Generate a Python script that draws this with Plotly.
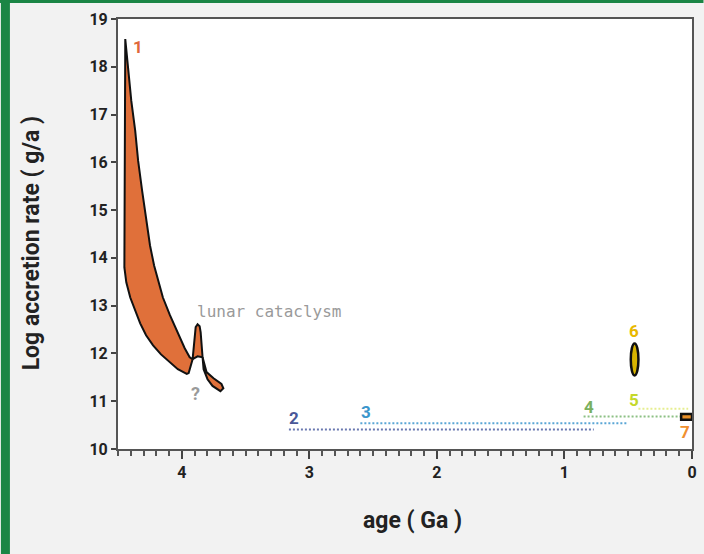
import plotly.graph_objects as go

# --- Series 1: accretion envelope (age in Ga, log rate in g/a) ---
# upper edge from the peak down to the spike base, then lower edge back up
band_age = [4.443, 4.419, 4.396, 4.365, 4.342, 4.311, 4.280, 4.249, 4.217, 4.186,
            4.148, 4.093, 4.039, 3.977, 3.938, 3.915,
            3.946, 3.961, 4.031, 4.093, 4.163, 4.225, 4.280, 4.326, 4.365, 4.404,
            4.435, 4.450, 4.443]
band_rate = [18.58, 17.91, 17.29, 16.66, 16.03, 15.41, 14.78, 14.26, 13.84, 13.53,
             13.17, 12.80, 12.48, 12.11, 11.92, 11.88,
             11.59, 11.57, 11.67, 11.82, 11.98, 12.17, 12.38, 12.63, 12.88, 13.17,
             13.49, 13.80, 18.58]

spike_age = [3.915, 3.907, 3.899, 3.891, 3.876, 3.860, 3.852, 3.845, 3.837, 3.876, 3.915]
spike_rate = [11.88, 12.17, 12.42, 12.55, 12.61, 12.57, 12.44, 12.17, 11.92, 11.94, 11.88]

tail_age = [3.837, 3.821, 3.806, 3.751, 3.689, 3.674, 3.697, 3.759, 3.798, 3.829, 3.837]
tail_rate = [11.92, 11.73, 11.61, 11.48, 11.36, 11.27, 11.21, 11.32, 11.46, 11.67, 11.92]

# --- Series 2-5: constant-rate intervals (start age, end age, log rate) ---
s2_age = [3.16, 0.77]
s2_rate = [10.41, 10.41]
s3_age = [2.60, 0.50]
s3_rate = [10.54, 10.54]
s4_age = [0.85, 0.08]
s4_rate = [10.68, 10.68]
s5_age = [0.42, 0.03]
s5_rate = [10.84, 10.84]

# --- Series 6: range at a single age ---
s6_age = [0.48, 0.42]
s6_rate = [11.54, 12.21]

# --- Series 7: present-day box ---
s7_age = [0.085, 0.0]
s7_rate = [10.61, 10.73]

# Series labels
label_text = ["1", "2", "3", "4", "5", "6", "7"]
label_age = [4.342, 3.122, 2.555, 0.808, 0.458, 0.458, 0.054]
label_rate = [18.41, 10.65, 10.77, 10.88, 11.02, 12.48, 10.35]
label_color = ["#e0683a", "#4a5898", "#3a96cc", "#7ab060", "#c4d82a", "#e8b800", "#f09030"]

x_ticks = [4, 3, 2, 1, 0]
x_minor = [i / 10 for i in range(0, 46)]
y_ticks = list(range(10, 20))

ORANGE = "#e0703a"
TITLE_FONT = dict(family="Roboto", size=23, color="#222222", weight="bold")

fig = go.Figure()

for ax, ry in ((band_age, band_rate), (spike_age, spike_rate), (tail_age, tail_rate)):
    fig.add_trace(go.Scatter(
        x=ax, y=ry, mode="lines", fill="toself", fillcolor=ORANGE,
        line=dict(color="#111111", width=2), hoverinfo="skip"))

for ax, ry, col in ((s2_age, s2_rate, "#6a78b0"),
                    (s3_age, s3_rate, "#5aa6d6"),
                    (s4_age, s4_rate, "#8cc084"),
                    (s5_age, s5_rate, "#e6ee90")):
    fig.add_trace(go.Scatter(
        x=ax, y=ry, mode="lines",
        line=dict(color=col, width=2, dash="2px,2px"), hoverinfo="skip"))

# Series 6 as an ellipse, series 7 as a box
fig.add_shape(type="circle", xref="x", yref="y",
              x0=s6_age[0], x1=s6_age[1], y0=s6_rate[0], y1=s6_rate[1],
              fillcolor="#d8b400", line=dict(color="#111111", width=2.5))
fig.add_shape(type="rect", xref="x", yref="y",
              x0=s7_age[0], x1=s7_age[1], y0=s7_rate[0], y1=s7_rate[1],
              fillcolor="#e8902a", line=dict(color="#111111", width=2.5))

for t, ax, ry, col in zip(label_text, label_age, label_rate, label_color):
    fig.add_annotation(x=ax, y=ry, xref="x", yref="y", text=t, showarrow=False,
                       font=dict(family="Roboto", size=17, color=col, weight="bold"))

fig.add_annotation(x=3.309, y=12.88, xref="x", yref="y", text="lunar cataclysm",
                   showarrow=False,
                   font=dict(family="DejaVu Sans Mono", size=16, color="#9a9a9a"))
fig.add_annotation(x=3.891, y=11.17, xref="x", yref="y", text="?", showarrow=False,
                   font=dict(family="Roboto", size=18, color="#9a9a9a", weight="bold"))

# Axis titles
fig.add_annotation(x=0.513, y=-0.167, xref="paper", yref="paper", text="age ( Ga )",
                   showarrow=False, xanchor="center", yanchor="middle",
                   font=TITLE_FONT)
fig.add_annotation(x=-0.150, y=0.478, xref="paper", yref="paper",
                   text="Log accretion rate ( g/a )", textangle=-90,
                   showarrow=False, xanchor="center", yanchor="middle",
                   font=TITLE_FONT)

# Green frame along the left and top edges of the page
fig.add_shape(type="rect", xref="paper", yref="paper",
              x0=-0.2040, x1=-0.1883, y0=-0.25, y1=1.05,
              fillcolor="#1b8545", line=dict(width=0), layer="above")
fig.add_shape(type="rect", xref="paper", yref="paper",
              x0=-0.21, x1=1.02, y0=1.0372, y1=1.05,
              fillcolor="#1b8545", line=dict(width=0), layer="above")

fig.update_layout(
    width=704, height=554,
    margin=dict(l=118, r=7, t=19, b=105),
    paper_bgcolor="#f2f2f2", plot_bgcolor="#ffffff",
    showlegend=False,
)

fig.update_xaxes(
    range=[4.5, 0], tickvals=x_ticks, ticktext=[str(v) for v in x_ticks],
    showgrid=True, gridcolor="#ffffff", zeroline=False,
    showline=True, mirror=True, linecolor="#555555", linewidth=2,
    ticks="outside", ticklen=8, tickwidth=2, tickcolor="#444444",
    minor=dict(tickmode="array", tickvals=x_minor, ticks="outside",
               ticklen=5, tickwidth=2, tickcolor="#555555", showgrid=False),
    tickfont=dict(family="Roboto", size=16, color="#222222", weight="bold"),
)
fig.update_yaxes(
    range=[10, 19], tickvals=y_ticks,
    showgrid=False, zeroline=False,
    showline=True, mirror=True, linecolor="#555555", linewidth=2,
    ticks="outside", ticklen=5, tickwidth=2, tickcolor="#444444",
    tickfont=dict(family="Roboto", size=16, color="#222222", weight="bold"),
)

fig.write_html("out.html")
